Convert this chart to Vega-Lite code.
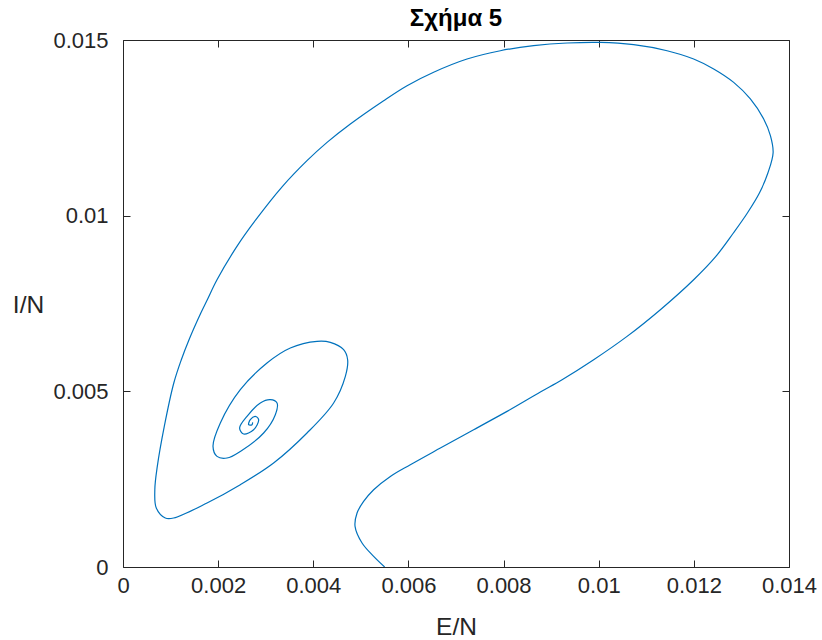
{
  "$schema": "https://vega.github.io/schema/vega-lite/v6.json",
  "width": 666,
  "height": 527,
  "autosize": {"type": "none"},
  "padding": {"left": 123, "top": 40, "right": 33, "bottom": 73},
  "background": "white",
  "config": {
    "view": {"stroke": null},
    "font": "Liberation Sans",
    "axis": {"grid": false, "domainColor": "#262626", "tickColor": "#262626", "labelColor": "#262626", "titleColor": "#262626", "labelFont": "Liberation Sans", "titleFont": "Liberation Sans", "labelFontSize": 22, "titleFontSize": 24.5, "titleFontWeight": "normal", "tickSize": -7, "domainWidth": 1, "tickWidth": 1}
  },
  "title": {"text": "Σχήμα 5", "fontSize": 24, "fontWeight": "bold", "font": "Liberation Sans", "color": "#000000", "offset": -2, "anchor": "middle"},
  "data": {"values": [
    {"t":1,"E":0.005500,"I":0.0},
    {"t":2,"E":0.005269,"I":0.000302},
    {"t":3,"E":0.005025,"I":0.000683},
    {"t":4,"E":0.004878,"I":0.001156},
    {"t":5,"E":0.004920,"I":0.001537},
    {"t":6,"E":0.005058,"I":0.001867},
    {"t":7,"E":0.005269,"I":0.002200},
    {"t":8,"E":0.005620,"I":0.002579},
    {"t":9,"E":0.006040,"I":0.002912},
    {"t":10,"E":0.006671,"I":0.003387},
    {"t":11,"E":0.007371,"I":0.003908},
    {"t":12,"E":0.008073,"I":0.004429},
    {"t":13,"E":0.008773,"I":0.004981},
    {"t":14,"E":0.009230,"I":0.005331},
    {"t":15,"E":0.009894,"I":0.005900},
    {"t":16,"E":0.010596,"I":0.006564},
    {"t":17,"E":0.011296,"I":0.007324},
    {"t":18,"E":0.011996,"I":0.008177},
    {"t":19,"E":0.012463,"I":0.008841},
    {"t":20,"E":0.012831,"I":0.009507},
    {"t":21,"E":0.013125,"I":0.010076},
    {"t":22,"E":0.013378,"I":0.010645},
    {"t":23,"E":0.013556,"I":0.011214},
    {"t":24,"E":0.013666,"I":0.011792},
    {"t":25,"E":0.013609,"I":0.012276},
    {"t":26,"E":0.013468,"I":0.012751},
    {"t":27,"E":0.013188,"I":0.013321},
    {"t":28,"E":0.012837,"I":0.013793},
    {"t":29,"E":0.012417,"I":0.014175},
    {"t":30,"E":0.011996,"I":0.014459},
    {"t":31,"E":0.011437,"I":0.014695},
    {"t":32,"E":0.010735,"I":0.014866},
    {"t":33,"E":0.010035,"I":0.014932},
    {"t":34,"E":0.009335,"I":0.014915},
    {"t":35,"E":0.008632,"I":0.014838},
    {"t":36,"E":0.007932,"I":0.014695},
    {"t":37,"E":0.007232,"I":0.014459},
    {"t":38,"E":0.006530,"I":0.014083},
    {"t":39,"E":0.005971,"I":0.013699},
    {"t":40,"E":0.005479,"I":0.013272},
    {"t":41,"E":0.004779,"I":0.012609},
    {"t":42,"E":0.004289,"I":0.012085},
    {"t":43,"E":0.003868,"I":0.011565},
    {"t":44,"E":0.003353,"I":0.010833},
    {"t":45,"E":0.002794,"I":0.009885},
    {"t":46,"E":0.002395,"I":0.009125},
    {"t":47,"E":0.001976,"I":0.008177},
    {"t":48,"E":0.001772,"I":0.007608},
    {"t":49,"E":0.001636,"I":0.007230},
    {"t":50,"E":0.001388,"I":0.006470},
    {"t":51,"E":0.001226,"I":0.005900},
    {"t":52,"E":0.001068,"I":0.005237},
    {"t":53,"E":0.000868,"I":0.004002},
    {"t":54,"E":0.000721,"I":0.002863},
    {"t":55,"E":0.000669,"I":0.002200},
    {"t":56,"E":0.000700,"I":0.001679},
    {"t":57,"E":0.000889,"I":0.001395},
    {"t":58,"E":0.001064,"I":0.001395},
    {"t":59,"E":0.001766,"I":0.001822},
    {"t":60,"E":0.002466,"I":0.002343},
    {"t":61,"E":0.003166,"I":0.002960},
    {"t":62,"E":0.003868,"I":0.003814},
    {"t":63,"E":0.004428,"I":0.004668},
    {"t":64,"E":0.004674,"I":0.005425},
    {"t":65,"E":0.004722,"I":0.005900},
    {"t":66,"E":0.004638,"I":0.006185},
    {"t":67,"E":0.004358,"I":0.006393},
    {"t":68,"E":0.004079,"I":0.006421},
    {"t":69,"E":0.003517,"I":0.006233},
    {"t":70,"E":0.003027,"I":0.005806},
    {"t":71,"E":0.002466,"I":0.005047},
    {"t":72,"E":0.002046,"I":0.004099},
    {"t":73,"E":0.001892,"I":0.003433},
    {"t":74,"E":0.001976,"I":0.003148},
    {"t":75,"E":0.002186,"I":0.003102},
    {"t":76,"E":0.002466,"I":0.003290},
    {"t":77,"E":0.002956,"I":0.003814},
    {"t":78,"E":0.003202,"I":0.004335},
    {"t":79,"E":0.003238,"I":0.004668},
    {"t":80,"E":0.003097,"I":0.004762},
    {"t":81,"E":0.002887,"I":0.004668},
    {"t":82,"E":0.002607,"I":0.004287},
    {"t":83,"E":0.002451,"I":0.003956},
    {"t":84,"E":0.002535,"I":0.003786},
    {"t":85,"E":0.002746,"I":0.003908},
    {"t":86,"E":0.002851,"I":0.004193},
    {"t":87,"E":0.002781,"I":0.004287},
    {"t":88,"E":0.002676,"I":0.004193},
    {"t":89,"E":0.002641,"I":0.004050},
    {"t":90,"E":0.002712,"I":0.004050},
    {"t":91,"E":0.002725,"I":0.004116}
  ]},
  "layer": [
    {
      "mark": {"type": "line", "color": "#0072BD", "strokeWidth": 1.2, "interpolate": "catmull-rom", "clip": true},
      "encoding": {
        "x": {"field": "E", "type": "quantitative", "scale": {"domain": [0, 0.014], "nice": false, "zero": false},
              "axis": {"title": "E/N", "values": [0,0.002,0.004,0.006,0.008,0.01,0.012,0.014], "labelExpr": "'' + datum.value", "labelPadding": 15, "titleBaseline": "alphabetic", "titleY": 67, "labelFlush": false}},
        "y": {"field": "I", "type": "quantitative", "scale": {"domain": [0, 0.015], "nice": false, "zero": false},
              "axis": {"title": "I/N", "values": [0,0.005,0.01,0.015], "labelExpr": "'' + datum.value", "labelPadding": 22, "titleAngle": 0, "titleAlign": "center", "titleBaseline": "middle", "titleX": -95, "titleY": 265, "labelFlush": false}},
        "order": {"field": "t", "type": "quantitative"}
      }
    },
    {
      "mark": {"type": "line", "strokeOpacity": 0},
      "encoding": {
        "x": {"field": "E", "type": "quantitative", "scale": {"domain": [0, 0.014], "nice": false, "zero": false},
              "axis": {"orient": "top", "title": null, "labels": false, "values": [0,0.002,0.004,0.006,0.008,0.01,0.012,0.014]}},
        "y": {"field": "I", "type": "quantitative", "scale": {"domain": [0, 0.015], "nice": false, "zero": false},
              "axis": {"orient": "right", "title": null, "labels": false, "values": [0,0.005,0.01,0.015]}},
        "order": {"field": "t", "type": "quantitative"}
      }
    }
  ],
  "resolve": {"axis": {"x": "independent", "y": "independent"}}
}
